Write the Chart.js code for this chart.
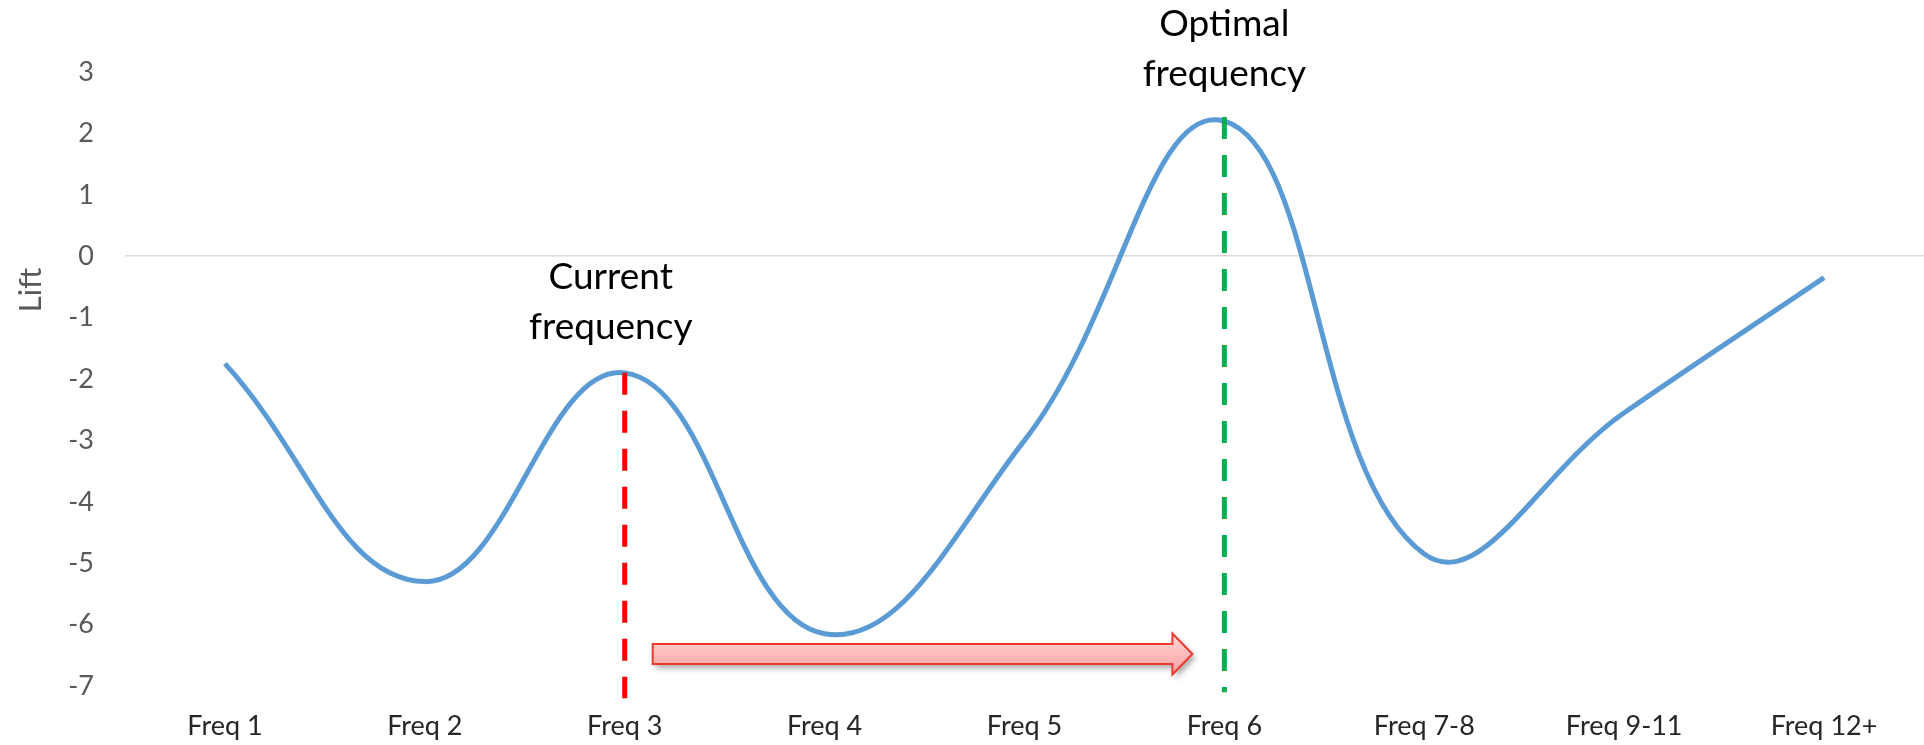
<!DOCTYPE html>
<html>
<head>
<meta charset="utf-8">
<script src="https://cdn.jsdelivr.net/npm/chart.js@4.4.1/dist/chart.umd.min.js"></script>
<style>
  html, body { margin: 0; padding: 0; background: #ffffff; }
  #wrap { width: 1924px; height: 745px; position: relative; }
  canvas { display: block; }
</style>
</head>
<body>
<div id="wrap"><canvas id="c" width="1924" height="745"></canvas></div>
<script>
// ---- data ----
const categories = ['Freq 1', 'Freq 2', 'Freq 3', 'Freq 4', 'Freq 5', 'Freq 6', 'Freq 7-8', 'Freq 9-11', 'Freq 12+'];
const liftValues = [-1.75, -5.3, -1.9, -6.15, -3.0, 2.2, -4.85, -2.55, -0.35];
const yTickValues = [3, 2, 1, 0, -1, -2, -3, -4, -5, -6, -7];
const yAxisTitle = 'Lift';
const currentLabel = ['Current', 'frequency'];
const optimalLabel = ['Optimal', 'frequency'];
const currentCategory = 'Freq 3';
const optimalCategory = 'Freq 6';

const TICK_FONT = 'Lato';
const TEXT_FONT = 'Lato';

const annotationPlugin = {
  id: 'annotations',
  afterDatasetsDraw(chart) {
    const ctx = chart.ctx;
    const xs = chart.scales.x, ys = chart.scales.y;
    const ci = categories.indexOf(currentCategory);
    const oi = categories.indexOf(optimalCategory);
    const xc = xs.getPixelForValue(ci);
    const xo = xs.getPixelForValue(oi);
    const catW = (xo - xc) / (oi - ci);

    // dashed markers
    ctx.save();
    ctx.lineWidth = 5;
    ctx.setLineDash([22, 16]);
    ctx.strokeStyle = '#ff0000';
    ctx.beginPath();
    ctx.moveTo(xc, ys.getPixelForValue(liftValues[ci]));
    ctx.lineTo(xc, ys.getPixelForValue(-7.2));
    ctx.stroke();
    ctx.strokeStyle = '#00b050';
    ctx.beginPath();
    ctx.moveTo(xo, ys.getPixelForValue(liftValues[oi]) - 4);
    ctx.lineTo(xo, ys.getPixelForValue(-7.1));
    ctx.stroke();
    ctx.restore();

    // block arrow
    const tail = xc + 0.14 * catW;
    const tip = xo - 0.16 * catW;
    const headBase = tip - 20;
    const yc = ys.getPixelForValue(-6.48);
    const bh = 10, hh = 20.5;
    ctx.save();
    ctx.beginPath();
    ctx.moveTo(tail, yc - bh);
    ctx.lineTo(headBase, yc - bh);
    ctx.lineTo(headBase, yc - hh);
    ctx.lineTo(tip, yc);
    ctx.lineTo(headBase, yc + hh);
    ctx.lineTo(headBase, yc + bh);
    ctx.lineTo(tail, yc + bh);
    ctx.closePath();
    const g = ctx.createLinearGradient(0, yc - hh, 0, yc + hh);
    g.addColorStop(0, '#ffd6d6');
    g.addColorStop(1, '#f7a0a0');
    ctx.shadowColor = 'rgba(0,0,0,0.35)';
    ctx.shadowBlur = 6;
    ctx.shadowOffsetX = 3;
    ctx.shadowOffsetY = 4;
    ctx.fillStyle = g;
    ctx.fill();
    ctx.shadowColor = 'transparent';
    ctx.lineWidth = 2;
    ctx.strokeStyle = '#ec3a2e';
    ctx.lineJoin = 'miter';
    ctx.stroke();
    ctx.restore();

    // text labels
    ctx.save();
    ctx.fillStyle = '#000000';
    ctx.font = '37px ' + TEXT_FONT;
    ctx.textAlign = 'center';
    ctx.textBaseline = 'alphabetic';
    const cY = ys.getPixelForValue(-0.53);
    ctx.fillText(currentLabel[0], xc - 14, cY);
    ctx.fillText(currentLabel[1], xc - 14, cY + 50);
    const oY = ys.getPixelForValue(3.58);
    ctx.fillText(optimalLabel[0], xo, oY);
    ctx.fillText(optimalLabel[1], xo, oY + 50);
    ctx.restore();

    // y axis title
    ctx.save();
    ctx.fillStyle = '#595959';
    ctx.font = '31px ' + TICK_FONT;
    ctx.translate(31, ys.getPixelForValue(-0.55));
    ctx.rotate(-Math.PI / 2);
    ctx.textAlign = 'center';
    ctx.textBaseline = 'middle';
    ctx.fillText(yAxisTitle, 0, 0);
    ctx.restore();
  }
};

new Chart(document.getElementById('c'), {
  type: 'line',
  data: {
    labels: categories,
    datasets: [{
      label: yAxisTitle,
      data: liftValues,
      borderColor: '#5b9bd5',
      borderWidth: 5,
      pointRadius: 0,
      tension: 0.42,
      fill: false
    }]
  },
  options: {
    responsive: false,
    animation: false,
    devicePixelRatio: 1,
    layout: { padding: { top: 72, left: 0, right: 0, bottom: 0 } },
    plugins: { legend: { display: false }, tooltip: { enabled: false } },
    scales: {
      x: {
        offset: true,
        grid: { display: false, drawTicks: false },
        border: { display: false },
        ticks: {
          color: '#262626',
          font: { family: TICK_FONT, size: 27, weight: '400' },
          padding: 24,
          maxRotation: 0,
          autoSkip: false
        },
        afterFit(s) { s.height = 59; }
      },
      y: {
        min: -7,
        max: 3,
        afterBuildTicks(s) { s.ticks = yTickValues.map(v => ({ value: v })); },
        grid: {
          drawTicks: false,
          color: ctx => (ctx.tick && ctx.tick.value === 0) ? '#d9d9d9' : 'rgba(0,0,0,0)',
          lineWidth: 1.5
        },
        border: { display: false },
        ticks: {
          color: '#595959',
          font: { family: TICK_FONT, size: 27, weight: '400' },
          padding: 31
        },
        afterFit(s) { s.width = 125; }
      }
    }
  },
  plugins: [annotationPlugin]
});
</script>
</body>
</html>
